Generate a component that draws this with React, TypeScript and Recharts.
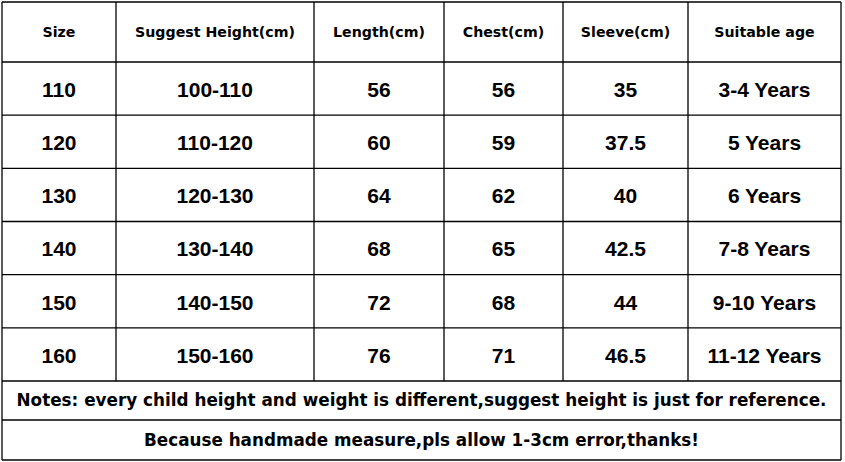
import React from 'react'
import { ScatterChart, Scatter, XAxis, YAxis, ReferenceLine } from 'recharts'

// table content
const headers = ['Size', 'Suggest Height(cm)', 'Length(cm)', 'Chest(cm)', 'Sleeve(cm)', 'Suitable age']
const sizes = ['110', '120', '130', '140', '150', '160']
const heights = ['100-110', '110-120', '120-130', '130-140', '140-150', '150-160']
const lengths = [56, 60, 64, 68, 72, 76]
const chests = [56, 59, 62, 65, 68, 71]
const sleeves = [35, 37.5, 40, 42.5, 44, 46.5]
const ages = ['3-4 Years', '5 Years', '6 Years', '7-8 Years', '9-10 Years', '11-12 Years']
const notes = [
  'Notes: every child height and weight is different,suggest height is just for reference.',
  'Because handmade measure,pls allow 1-3cm error,thanks!'
]

// layout (pixels inside the plot area)
const COL_W = [114, 198, 130, 119, 125, 153]
const ROW_H = [60, 53.15, 53.15, 53.15, 53.15, 53.15, 53.15, 39, 40]
const NOTE_FIT = [810, 555]

const edges = (sizes: number[]) => sizes.reduce((acc, s) => [...acc, acc[acc.length - 1] + s], [0])
const colEdges = edges(COL_W)
const rowEdges = edges(ROW_H)
const totalW = colEdges[colEdges.length - 1]
const totalH = rowEdges[rowEdges.length - 1]
const gridBottom = rowEdges[7]
const mid = (e: number[], i: number) => (e[i] + e[i + 1]) / 2

const rows = sizes.map((s, i) => [s, heights[i], String(lengths[i]), String(chests[i]), String(sleeves[i]), ages[i]])

const headerCells = headers.map((label, c) => ({ x: mid(colEdges, c), y: mid(rowEdges, 0), label, kind: 'head', idx: c }))
const bodyCells = rows.flatMap((row, r) =>
  row.map((label, c) => ({ x: mid(colEdges, c), y: mid(rowEdges, r + 1), label, kind: 'body', idx: c }))
)
const noteCells = notes.map((label, i) => ({ x: totalW / 2, y: mid(rowEdges, 7 + i), label, kind: 'note', idx: i }))

const STYLE: Record<string, { font: string; size: number; dy: number }> = {
  head: { font: '"DejaVu Sans", sans-serif', size: 14.2, dy: -0.3 },
  body: { font: '"Liberation Sans", Arial, sans-serif', size: 21, dy: 0.8 },
  note: { font: '"DejaVu Sans", sans-serif', size: 17, dy: 0 }
}

function CellText(props: any) {
  const { cx, cy, payload } = props
  const st = STYLE[payload.kind]
  const fit = payload.kind === 'note' ? NOTE_FIT[payload.idx] : undefined
  return (
    <text
      x={cx}
      y={cy}
      dy={st.dy}
      textAnchor="middle"
      dominantBaseline="central"
      fontFamily={st.font}
      fontSize={st.size}
      fontWeight="bold"
      fill="#000"
      textLength={fit}
      lengthAdjust={fit ? 'spacingAndGlyphs' : undefined}
    >
      {payload.label}
    </text>
  )
}

const LINE = '#000'

export default function App() {
  return (
    <div style={{ position: 'absolute', left: 0, top: 0, width: 845, height: 462, background: '#fff' }}>
      <ScatterChart width={845} height={462} margin={{ top: 2, right: 4, bottom: 2, left: 2 }}>
        <XAxis type="number" dataKey="x" domain={[0, totalW]} hide />
        <YAxis type="number" dataKey="y" domain={[0, totalH]} reversed hide />
        {rowEdges.map((y) => (
          <ReferenceLine key={'h' + y} y={y} stroke={LINE} strokeWidth={1.3} />
        ))}
        {colEdges.map((x, i) => (
          <ReferenceLine
            key={'v' + x}
            segment={[
              { x, y: 0 },
              { x, y: i === 0 || i === colEdges.length - 1 ? totalH : gridBottom }
            ]}
            stroke={LINE}
            strokeWidth={1.3}
          />
        ))}
        <Scatter data={headerCells} shape={CellText} isAnimationActive={false} />
        <Scatter data={bodyCells} shape={CellText} isAnimationActive={false} />
        <Scatter data={noteCells} shape={CellText} isAnimationActive={false} />
      </ScatterChart>
    </div>
  )
}
